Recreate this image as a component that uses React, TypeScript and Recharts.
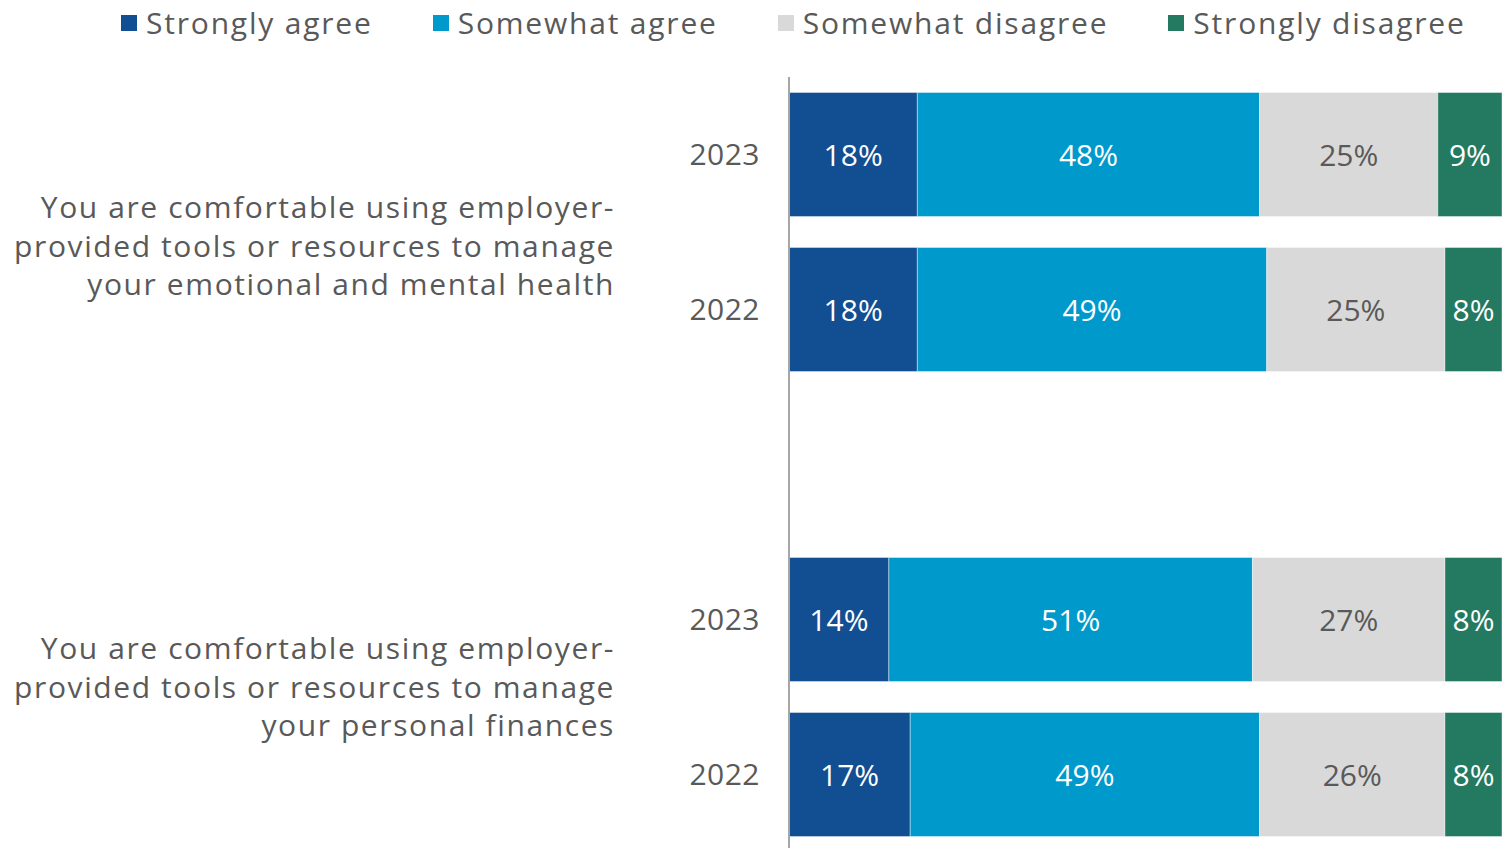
import { Bar, BarChart, LabelList, XAxis, YAxis } from 'recharts';

const rowKeys = ['g1-2023', 'g1-2022', 'spacer', 'g2-2023', 'g2-2022'];
const years = ['2023', '2022', '', '2023', '2022'];
const stronglyAgree = [18, 18, null, 14, 17];
const somewhatAgree = [48, 49, null, 51, 49];
const somewhatDisagree = [25, 25, null, 27, 26];
const stronglyDisagree = [9, 8, null, 8, 8];

const groupLabels = [
  ['You are comfortable using employer-', 'provided tools or resources to manage', 'your emotional and mental health'],
  ['You are comfortable using employer-', 'provided tools or resources to manage', 'your personal finances']
];
const groupStartRows = [0, 3];

const series = [
  { key: 'stronglyAgree', name: 'Strongly agree', color: '#114e92', text: '#ffffff' },
  { key: 'somewhatAgree', name: 'Somewhat agree', color: '#0099cc', text: '#ffffff' },
  { key: 'somewhatDisagree', name: 'Somewhat disagree', color: '#d9d9d9', text: '#595959' },
  { key: 'stronglyDisagree', name: 'Strongly disagree', color: '#237a61', text: '#ffffff' }
];

const data = rowKeys.map((key, i) => ({
  key,
  year: years[i],
  stronglyAgree: stronglyAgree[i],
  somewhatAgree: somewhatAgree[i],
  somewhatDisagree: somewhatDisagree[i],
  stronglyDisagree: stronglyDisagree[i]
}));

const FONT = '"Open Sans", sans-serif';
const GREY = '#595959';
// vertical shift of each group label from its first row tick
const groupShift = [92, 68];

const YearTick = (props: any) => {
  const { x, y, index } = props;
  const g = groupStartRows.indexOf(index);
  return (
    <g>
      <text x={x - 21} y={y} dy={10} textAnchor="end" fill={GREY} fontSize={30} fontFamily={FONT} letterSpacing={0.5}>
        {years[index]}
      </text>
      {g >= 0 && (
        <text x={615} y={y + groupShift[g]} textAnchor="end" fill={GREY} fontSize={30} fontFamily={FONT} letterSpacing={1.6}>
          {groupLabels[g].map((line, j) => (
            <tspan key={j} x={615} dy={j === 0 ? 10 - 38.5 : 38.5}>
              {line}
            </tspan>
          ))}
        </text>
      )}
    </g>
  );
};

const TopLegend = () => (
  <div
    style={{
      position: 'absolute',
      left: 121,
      top: 0,
      display: 'flex',
      gap: 60,
      fontFamily: FONT,
      fontSize: 30,
      color: GREY,
      lineHeight: '46px',
      letterSpacing: 1.8,
      whiteSpace: 'nowrap'
    }}
  >
    {series.map((s) => (
      <div key={s.key} style={{ display: 'flex', alignItems: 'center', gap: 9 }}>
        <span style={{ width: 16, height: 16, background: s.color, display: 'inline-block' }} />
        <span>{s.name}</span>
      </div>
    ))}
  </div>
);

const makeLabel = (textColor: string) => (props: any) => {
  const { x, y, width, height, value } = props;
  if (value == null) return null;
  return (
    <text x={x + width / 2} y={y + height / 2} dy={11} textAnchor="middle" fill={textColor} fontSize={30} fontFamily={FONT}>
      {`${value}%`}
    </text>
  );
};

export default function App() {
  return (
    <div style={{ position: 'absolute', left: 0, top: 0, width: 1502, height: 848, overflow: 'hidden', background: '#fff' }}>
      <BarChart
        width={1502}
        height={852}
        data={data}
        layout="vertical"
        barCategoryGap="10%"
        margin={{ top: 77, right: 0, bottom: 0, left: 0 }}
      >
        <XAxis type="number" domain={[0, 100]} hide />
        <YAxis
          type="category"
          dataKey="key"
          width={789}
          axisLine={{ stroke: '#a6a6a6', strokeWidth: 2 }}
          tickLine={false}
          tick={<YearTick />}
          interval={0}
        />
        {series.map((s) => (
          <Bar key={s.key} dataKey={s.key} name={s.name} stackId="a" fill={s.color} stroke="#ffffff" strokeOpacity={0.4} strokeWidth={1} isAnimationActive={false}>
            <LabelList dataKey={s.key} content={makeLabel(s.text)} />
          </Bar>
        ))}
      </BarChart>
      <TopLegend />
    </div>
  );
}
